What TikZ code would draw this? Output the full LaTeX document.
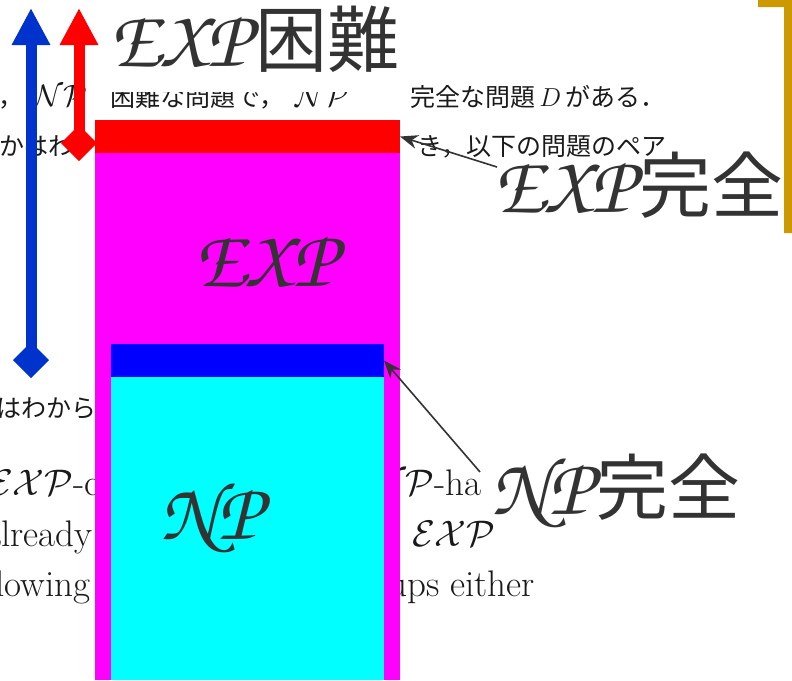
\RequirePackage{fix-cm}
\documentclass[tikz,border=0pt]{standalone}
\usepackage{fontspec}
\newfontfamily\cjk{Noto Sans CJK JP}
\usetikzlibrary{arrows.meta}
\newif\ifhavepzc
\IfFileExists{ot1pzc.fd}{\havepzctrue}{\havepzcfalse}
\newcommand\chanc[1]{\ifhavepzc{\fontencoding{OT1}\fontfamily{pzc}\fontseries{m}\fontshape{it}\fontsize{82}{84}\selectfont #1}\else{\fontsize{68}{72}\selectfont$\mathcal{#1}$}\fi}
\definecolor{txt}{HTML}{333333}
\definecolor{arrblue}{HTML}{0033CC}
\definecolor{gold}{HTML}{CC9900}
\definecolor{bgtxt}{HTML}{1A1A1A}
\definecolor{rd}{RGB}{255,0,0}
\definecolor{mag}{RGB}{255,0,255}
\definecolor{blu}{RGB}{0,0,255}
\definecolor{cyn}{RGB}{0,255,255}
\tikzset{
  bgen/.style={font=\fontsize{37}{42}\selectfont, text=bgtxt, inner sep=0pt},
  bgjp/.style={font=\cjk\fontsize{25}{30}\selectfont, text=bgtxt, inner sep=0pt},
  bgmath/.style={font=\fontsize{31}{34}\selectfont, text=bgtxt, inner sep=0pt},
  lbl/.style={font=\cjk\fontsize{72}{76}\selectfont, text=txt, inner sep=0pt},
  region/.style={inner sep=0pt, outer sep=0pt, anchor=north west, draw=none},
  bigarrow/.style={line width=11pt, {Diamond[length=36pt,width=36pt]}-{Triangle[length=37pt,width=36pt]}},
  annot/.style={draw=txt, line width=1.6pt, -{Stealth[length=18pt,width=14pt]}},
}
\begin{document}
\begin{tikzpicture}[x=1pt, y=-1pt]
\useasboundingbox (0,0) rectangle (792,680);

% background document text
\node[bgjp, anchor=base east] (l1a) at (24,106) {ア，};
\node[bgmath, anchor=base west] (l1b) at (33,106) {$\mathcal{NP}$};
\node[bgjp, anchor=base west] (l1c) at (110,106) {困難な問題で，};
\node[bgmath, anchor=base west] (l1d) at (295,106) {$\mathcal{NP}$};
\node[bgjp, anchor=base west] (l1e) at (410,106) {完全な問題\,{\fontsize{26}{30}\selectfont$D$}\,がある．};
\node[bgjp, anchor=base west] (l2a) at (-1,155) {かはわ};
\node[bgjp, anchor=base west] (l2b) at (417,155) {き，以下の問題のペア};
\node[bgjp, anchor=base east] (l3a) at (97,417) {はわから};
\node[bgen, anchor=base east] (l4a) at (100,495) {$\mathcal{EXP}$-c};
\node[bgen, anchor=base east] (l4b) at (482,495) {$\mathcal{NP}$-ha};
\node[bgen, anchor=base east] (l5a) at (93,546) {already};
\node[bgen, anchor=base west] (l5b) at (412,546) {$\mathcal{EXP}$};
\node[bgen, anchor=base east] (l6a) at (91,596) {following};
\node[bgen, anchor=base west] (l6b) at (388,596) {ups either};

% regions
\node[region, fill=rd, minimum width=305pt, minimum height=33pt] (expc) at (95,120) {};
\node[region, fill=mag, minimum width=305pt, minimum height=527pt] (exp) at (95,153) {};
\node[region, fill=blu, minimum width=273pt, minimum height=33pt] (npc) at (111,344) {};
\node[region, fill=cyn, minimum width=273pt, minimum height=303pt] (np) at (111,377) {};

\node[lbl] (explbl) at (266,262) {\chanc{EXP}};
\node[lbl] (nplbl) at (211,517) {\chanc{NP}};

% labels
\node[lbl, anchor=base west, fill=white, inner xsep=3pt, inner ysep=20pt] (exphard) at (107,66) {\chanc{EXP}\kern4pt 困難};
\node[lbl, anchor=base west] (expcomp) at (494,212) {\chanc{EXP}\kern4pt 完全};
\node[lbl, anchor=base west] (npcomp) at (491,514) {\chanc{NP}\kern4pt 完全};

% hardness arrows
\coordinate (bfrom) at (31,378);
\coordinate (bto) at (31,8);
\coordinate (rfrom) at (79,161);
\coordinate (rto) at (79,8);
\draw[bigarrow, draw=arrblue, fill=arrblue] (bfrom) -- (bto);
\draw[bigarrow, draw=rd, fill=rd] (rfrom) -- (rto);

% annotation arrows
\coordinate (expcfrom) at (497,167);
\coordinate (npcfrom) at (480,472);
\draw[annot] (expcfrom) -- (expc.east);
\draw[annot] (npcfrom) -- (npc.east);

% gold bracket
\coordinate (g1) at (758,0);
\coordinate (g2) at (792,0);
\coordinate (g3) at (792,233);
\coordinate (g4) at (784,233);
\coordinate (g5) at (784,7);
\coordinate (g6) at (758,7);
\fill[gold] (g1) -- (g2) -- (g3) -- (g4) -- (g5) -- (g6) -- cycle;
\end{tikzpicture}
\end{document}
